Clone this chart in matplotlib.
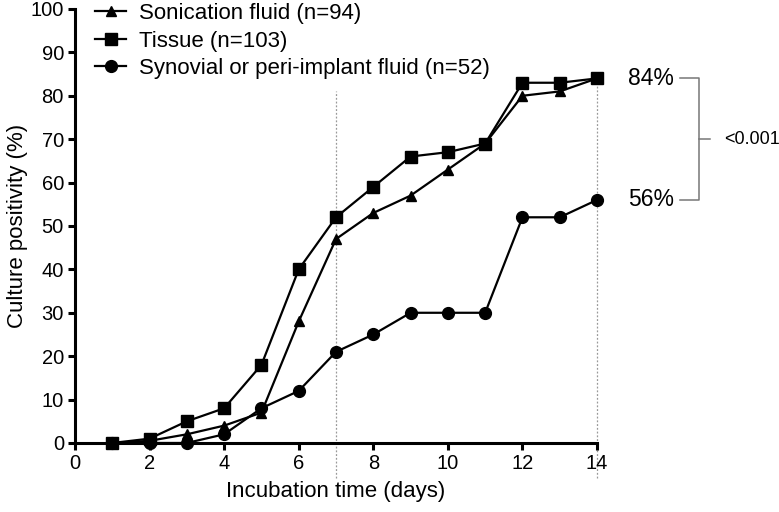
import numpy as np
import matplotlib.pyplot as plt

plt.rcParams['font.family'] = ['Liberation Sans', 'DejaVu Sans']

# culture positivity (%) per incubation day
days = [1, 2, 3, 4, 5, 6, 7, 8, 9, 10, 11, 12, 13, 14]
sonication = [0, 0.5, 2, 4, 7, 28, 47, 53, 57, 63, 69, 80, 81, 84]
tissue = [0, 1, 5, 8, 18, 40, 52, 59, 66, 67, 69, 83, 83, 84]
synovial = [0, 0, 0, 2, 8, 12, 21, 25, 30, 30, 30, 52, 52, 56]

labels = ['Sonication fluid (n=94)', 'Tissue (n=103)',
          'Synovial or peri-implant fluid (n=52)']
final_labels = ['84%', '56%']
p_text = '<0.001'

fig = plt.figure(figsize=(7.79, 5.12), dpi=100)
ax = fig.add_axes([0.0963, 0.1348, 0.6701, 0.8477])

# dotted reference lines at day 7 and day 14
ax.plot([7, 7], [-8, 81], ls=(0, (1.5, 1.5)), color='#999999', lw=0.9,
        clip_on=False, zorder=1)
ax.plot([14, 14], [-8, 84], ls=(0, (1.5, 1.5)), color='#999999', lw=0.9,
        clip_on=False, zorder=1)

ax.plot(days, synovial, '-o', color='black', lw=1.6, ms=8.5,
        clip_on=False, zorder=3, label=labels[2])
ax.plot(days, sonication, '-^', color='black', lw=1.6, ms=7.5,
        clip_on=False, zorder=4, label=labels[0])
ax.plot(days, tissue, '-s', color='black', lw=1.6, ms=8,
        clip_on=False, zorder=5, label=labels[1])

ax.set_xlim(0, 14)
ax.set_ylim(0, 100)
ax.set_xticks(range(0, 15, 2))
ax.set_yticks(range(0, 101, 10))
ax.spines['top'].set_visible(False)
ax.spines['right'].set_visible(False)
ax.spines['left'].set_linewidth(2.2)
ax.spines['bottom'].set_linewidth(2.2)
ax.tick_params(width=2.2, length=5, labelsize=14.5, pad=3)
ax.set_xlabel('Incubation time (days)', fontsize=16, labelpad=6)
ax.set_ylabel('Culture positivity (%)', fontsize=16, labelpad=2)

h, l = ax.get_legend_handles_labels()
order = [1, 2, 0]
ax.legend([h[i] for i in order], [l[i] for i in order], loc='upper left',
          bbox_to_anchor=(0.0, 1.06), frameon=False, fontsize=16,
          handlelength=1.4, labelspacing=0.3, handletextpad=0.6)

# final values and p-value bracket
ax.text(15.45, 84, final_labels[0], fontsize=16.5, va='center', ha='center')
ax.text(15.45, 56, final_labels[1], fontsize=16.5, va='center', ha='center')
gray = '#777777'
ax.plot([16.22, 16.73, 16.73, 16.22], [84, 84, 56, 56], color=gray, lw=1.1,
        clip_on=False)
ax.plot([16.73, 17.03], [70, 70], color=gray, lw=1.1, clip_on=False)
ax.text(17.42, 70, p_text, fontsize=13, va='center', ha='left')

fig.savefig('out.png', dpi=100)
